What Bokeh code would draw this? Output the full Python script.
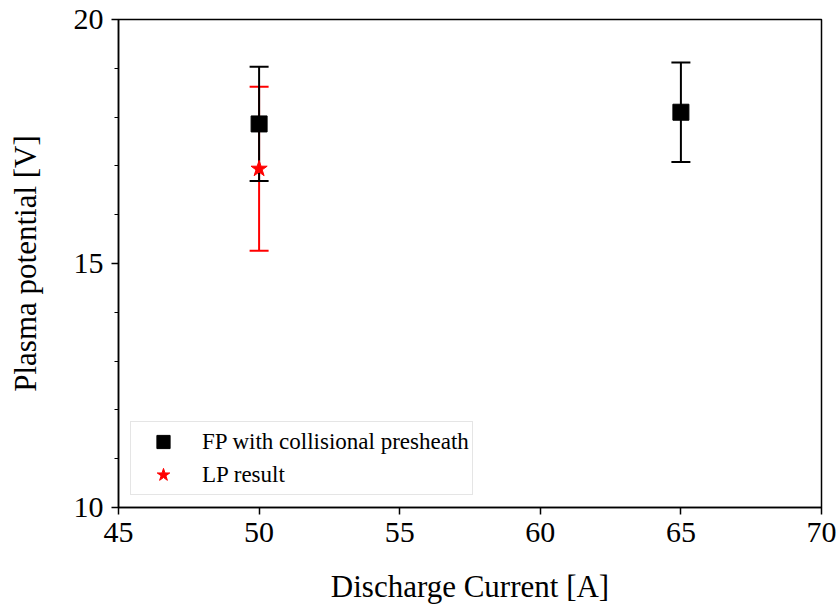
from bokeh.plotting import figure
from bokeh.models import (ColumnDataSource, Whisker, TeeHead, Legend, LegendItem,
                          FixedTicker, Range1d)
from bokeh.embed import file_html
from bokeh.resources import INLINE

# Data
fp_current = [50, 65]
fp_potential = [17.86, 18.10]
fp_error = [1.17, 1.02]

lp_current = [50]
lp_potential = [16.94]
lp_error = [1.68]

x_ticks = [45, 50, 55, 60, 65, 70]
y_ticks = [10, 15, 20]
y_minor = [11, 12, 13, 14, 16, 17, 18, 19]

FONT = "Liberation Serif"

fp_src = ColumnDataSource(dict(
    x=fp_current, y=fp_potential,
    lo=[v - e for v, e in zip(fp_potential, fp_error)],
    hi=[v + e for v, e in zip(fp_potential, fp_error)]))
lp_src = ColumnDataSource(dict(
    x=lp_current, y=lp_potential,
    lo=[v - e for v, e in zip(lp_potential, lp_error)],
    hi=[v + e for v, e in zip(lp_potential, lp_error)]))

p = figure(width=839, height=610, output_backend="svg", toolbar_location=None,
           x_range=Range1d(45, 70), y_range=Range1d(10, 20),
           min_border_left=118, min_border_right=18, min_border_top=19,
           min_border_bottom=103)

p.xgrid.visible = False
p.ygrid.visible = False
p.outline_line_color = "black"
p.outline_line_width = 1.5
p.background_fill_color = "white"
p.border_fill_color = "white"

# Error bars
for src, col in ((lp_src, "red"), (fp_src, "black")):
    w = Whisker(source=src, base="x", lower="lo", upper="hi",
                line_color=col, line_width=2, level="underlay",
                upper_head=TeeHead(size=19, line_color=col, line_width=2),
                lower_head=TeeHead(size=19, line_color=col, line_width=2))
    p.add_layout(w)

fp_r = p.scatter("x", "y", source=fp_src, marker="square", size=16,
                 fill_color="black", line_color="black")
lp_r = p.scatter("x", "y", source=lp_src, marker="star", size=17,
                 fill_color="red", line_color="red")

for ax in (p.xaxis[0], p.yaxis[0]):
    ax.axis_line_color = "black"
    ax.axis_line_width = 1.5
    ax.major_tick_line_color = "black"
    ax.major_tick_line_width = 1.5
    ax.major_tick_out = 7
    ax.major_tick_in = 0
    ax.minor_tick_line_color = "black"
    ax.minor_tick_line_width = 1.2
    ax.minor_tick_out = 4
    ax.minor_tick_in = 0
    ax.major_label_text_font = FONT
    ax.major_label_text_font_size = "30px"
    ax.major_label_text_color = "black"
    ax.axis_label_text_font = FONT
    ax.axis_label_text_font_size = "31px"
    ax.axis_label_text_font_style = "normal"
    ax.axis_label_text_color = "black"
    ax.major_label_standoff = 8

p.xaxis[0].ticker = FixedTicker(ticks=x_ticks)
p.yaxis[0].ticker = FixedTicker(ticks=y_ticks, minor_ticks=y_minor)
p.xaxis[0].axis_label = "Discharge Current [A]"
p.yaxis[0].axis_label = "Plasma potential [V]"
p.xaxis[0].axis_label_standoff = 24
p.yaxis[0].axis_label_standoff = 28

legend = Legend(items=[
    LegendItem(label="FP with collisional presheath", renderers=[fp_r]),
    LegendItem(label="LP result", renderers=[lp_r]),
], location="bottom_left")
legend.margin = 12
legend.padding = 3
legend.spacing = 0
legend.glyph_width = 58
legend.glyph_height = 33
legend.label_height = 33
legend.label_standoff = 10
legend.label_text_font = FONT
legend.label_text_font_size = "23px"
legend.label_text_color = "black"
legend.border_line_color = "#cccccc"
legend.border_line_width = 1
legend.background_fill_alpha = 0.8
p.add_layout(legend)

open("out.html", "w").write(file_html(p, INLINE))
